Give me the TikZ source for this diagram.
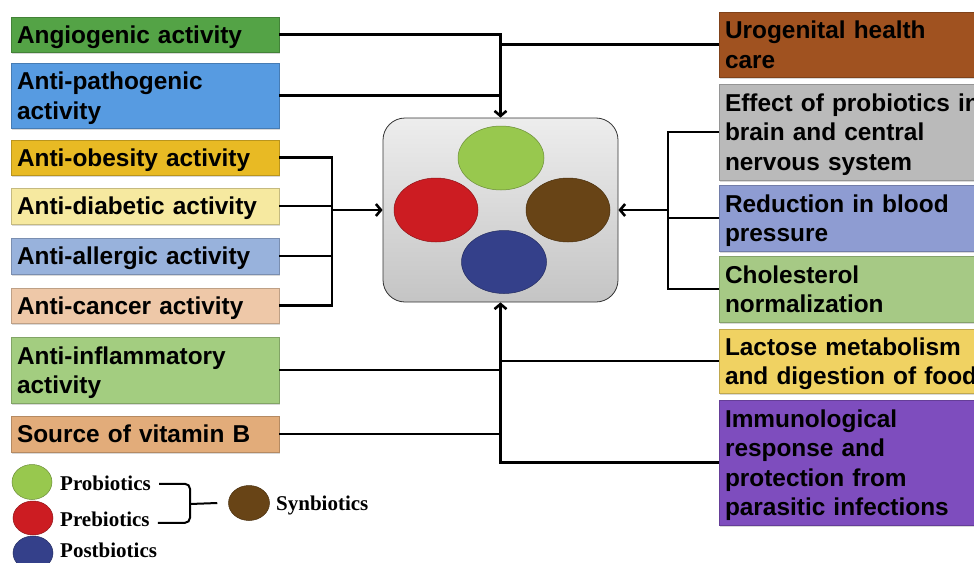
\documentclass[tikz,border=0pt]{standalone}
\usepackage{fontspec}
\setmainfont{Liberation Sans}
\newfontfamily\legfont{Liberation Serif}
\usetikzlibrary{shapes.geometric,arrows.meta,shadows}
\definecolor{cAng}{RGB}{84,163,70}
\definecolor{cPath}{RGB}{87,155,225}
\definecolor{cObe}{RGB}{232,186,36}
\definecolor{cDia}{RGB}{246,233,160}
\definecolor{cAll}{RGB}{152,178,220}
\definecolor{cCan}{RGB}{238,200,168}
\definecolor{cInf}{RGB}{163,205,128}
\definecolor{cVit}{RGB}{226,172,122}
\definecolor{cUro}{RGB}{160,82,32}
\definecolor{cEff}{RGB}{186,186,186}
\definecolor{cRed}{RGB}{142,156,210}
\definecolor{cCho}{RGB}{166,201,133}
\definecolor{cLac}{RGB}{240,210,98}
\definecolor{cImm}{RGB}{126,77,190}
\definecolor{cG}{RGB}{152,200,78}
\definecolor{cR}{RGB}{204,28,34}
\definecolor{cBr}{RGB}{104,68,22}
\definecolor{cBl}{RGB}{52,64,138}
\begin{document}
\begin{tikzpicture}[x=1pt,y=-1pt,
  conn/.style={line width=2.6pt},
  arr/.style={-{Straight Barb[length=5pt,width=12pt]}},
  bx/.style={rectangle, fill=#1, draw=#1!80!black, line width=0.5pt,
    inner xsep=6pt, inner ysep=0pt, align=left, text height=17.6pt,
    font=\fontsize{24.4}{29.5}\selectfont\bfseries,
    drop shadow={opacity=0.3,shadow xshift=1.2pt,shadow yshift=-1.5pt}},
  lbox/.style={bx=#1, text width=256pt},
  rbox/.style={bx=#1, text width=269pt},
  L1/.style={text depth=0pt},
  L2/.style={text depth=29.5pt},
  L3/.style={text depth=59pt},
  L4/.style={text depth=88.5pt},
  ell/.style={ellipse, inner sep=0pt, fill=#1, draw=#1!70!black, line width=0.5pt},
  leg/.style={inner sep=0pt, anchor=base west, font=\fontsize{21}{24}\legfont\bfseries},
  brc/.style={line width=2pt, rounded corners=5pt}]
\useasboundingbox (0,0) rectangle (974,562);
\clip (0,0) rectangle (974,562);

% central box
\node[rectangle, rounded corners=22pt, draw=black!80, line width=0.8pt,
  top color=black!7, bottom color=black!23, minimum width=235pt, minimum height=184pt] (cb) at (500.5,210) {};
\node[ell=cG, minimum width=86pt, minimum height=64pt] (eG) at (501,158) {};
\node[ell=cR, minimum width=84pt, minimum height=64pt] (eR) at (436,210) {};
\node[ell=cBr, minimum width=84pt, minimum height=64pt] (eBr) at (568,210) {};
\node[ell=cBl, minimum width=85pt, minimum height=63pt] (eBl) at (504,262) {};

% left boxes
\node[lbox=cAng, L1, minimum height=35pt] (ang) at (145,34.5) {Angiogenic activity};
\node[lbox=cPath, L2, minimum height=65pt] (path) at (145,95.5) {Anti-pathogenic\\activity};
\node[lbox=cObe, L1, minimum height=35pt] (ob) at (145,157.5) {Anti-obesity activity};
\node[lbox=cDia, L1, minimum height=36pt] (db) at (145,206) {Anti-diabetic activity};
\node[lbox=cAll, L1, minimum height=36pt] (al) at (145,256) {Anti-allergic activity};
\node[lbox=cCan, L1, minimum height=35pt] (ca) at (145,305.5) {Anti-cancer activity};
\node[lbox=cInf, L2, minimum height=66pt] (inf) at (145,370) {Anti-inflammatory\\activity};
\node[lbox=cVit, L1, minimum height=36pt] (vit) at (145,434) {Source of vitamin B};

% right boxes
\node[rbox=cUro, L2, minimum height=65pt] (uro) at (859.5,44.5) {Urogenital health\\care};
\node[rbox=cEff, L3, minimum height=96pt] (eff) at (859.5,132) {Effect of probiotics in\\brain and central\\nervous system};
\node[rbox=cRed, L2, minimum height=66pt] (red) at (859.5,218) {Reduction in blood\\pressure};
\node[rbox=cCho, L2, minimum height=66pt] (chol) at (859.5,289) {Cholesterol\\normalization};
\node[rbox=cLac, L2, minimum height=64pt] (lac) at (859.5,361) {Lactose metabolism\\and digestion of food};
\node[rbox=cImm, L4, minimum height=125pt] (imm) at (859.5,462.5) {Immunological\\response and\\protection from\\parasitic infections};

% top connectors
\draw[conn,arr] (ang.east) -| (cb.north);
\draw[conn] (path.east) -- (path.east -| cb.north);
\draw[conn] (uro.west) -- (uro.west -| cb.north);

% left group
\coordinate (lj) at (332,210);
\draw[conn] (ob.east) -- (ob.east -| lj) -- (ca.east -| lj) -- (ca.east);
\draw[conn] (db.east) -- (db.east -| lj);
\draw[conn] (al.east) -- (al.east -| lj);
\draw[conn,arr] (lj) -- (cb.west);

% right group
\coordinate (rj) at (668,210);
\draw[conn] (eff.west) -- (eff.west -| rj) -- (chol.west -| rj) -- (chol.west);
\draw[conn] (red.west) -- (red.west -| rj);
\draw[conn,arr] (rj) -- (cb.east);

% bottom group
\draw[conn,arr] (imm.west) -| (cb.south);
\draw[conn] (lac.west) -- (lac.west -| cb.south);
\draw[conn] (inf.east) -- (inf.east -| cb.south);
\draw[conn] (vit.east) -- (vit.east -| cb.south);

% legend
\node[ell=cG, minimum width=40pt, minimum height=35pt] (lgG) at (32,482) {};
\node[ell=cR, minimum width=40pt, minimum height=34pt] (lgR) at (33,518) {};
\node[ell=cBl, minimum width=40pt, minimum height=34pt] (lgB) at (33,553) {};
\node[ell=cBr, minimum width=41pt, minimum height=35pt] (lgS) at (249,503) {};
\node[leg] (lpro) at (60,490) {Probiotics};
\node[leg] (lpre) at (60,526) {Prebiotics};
\node[leg] (lpost) at (60,557) {Postbiotics};
\node[leg] (lsyn) at (276,510) {Synbiotics};
\coordinate (bj) at (190,504);
\draw[brc] ([xshift=8pt,yshift=-1pt]lpro.east) -| (bj) |- ([xshift=8pt,yshift=-4pt]lpre.east);
\draw[brc] (bj) -- ([xshift=-11pt]lgS.west);
\end{tikzpicture}
\end{document}
